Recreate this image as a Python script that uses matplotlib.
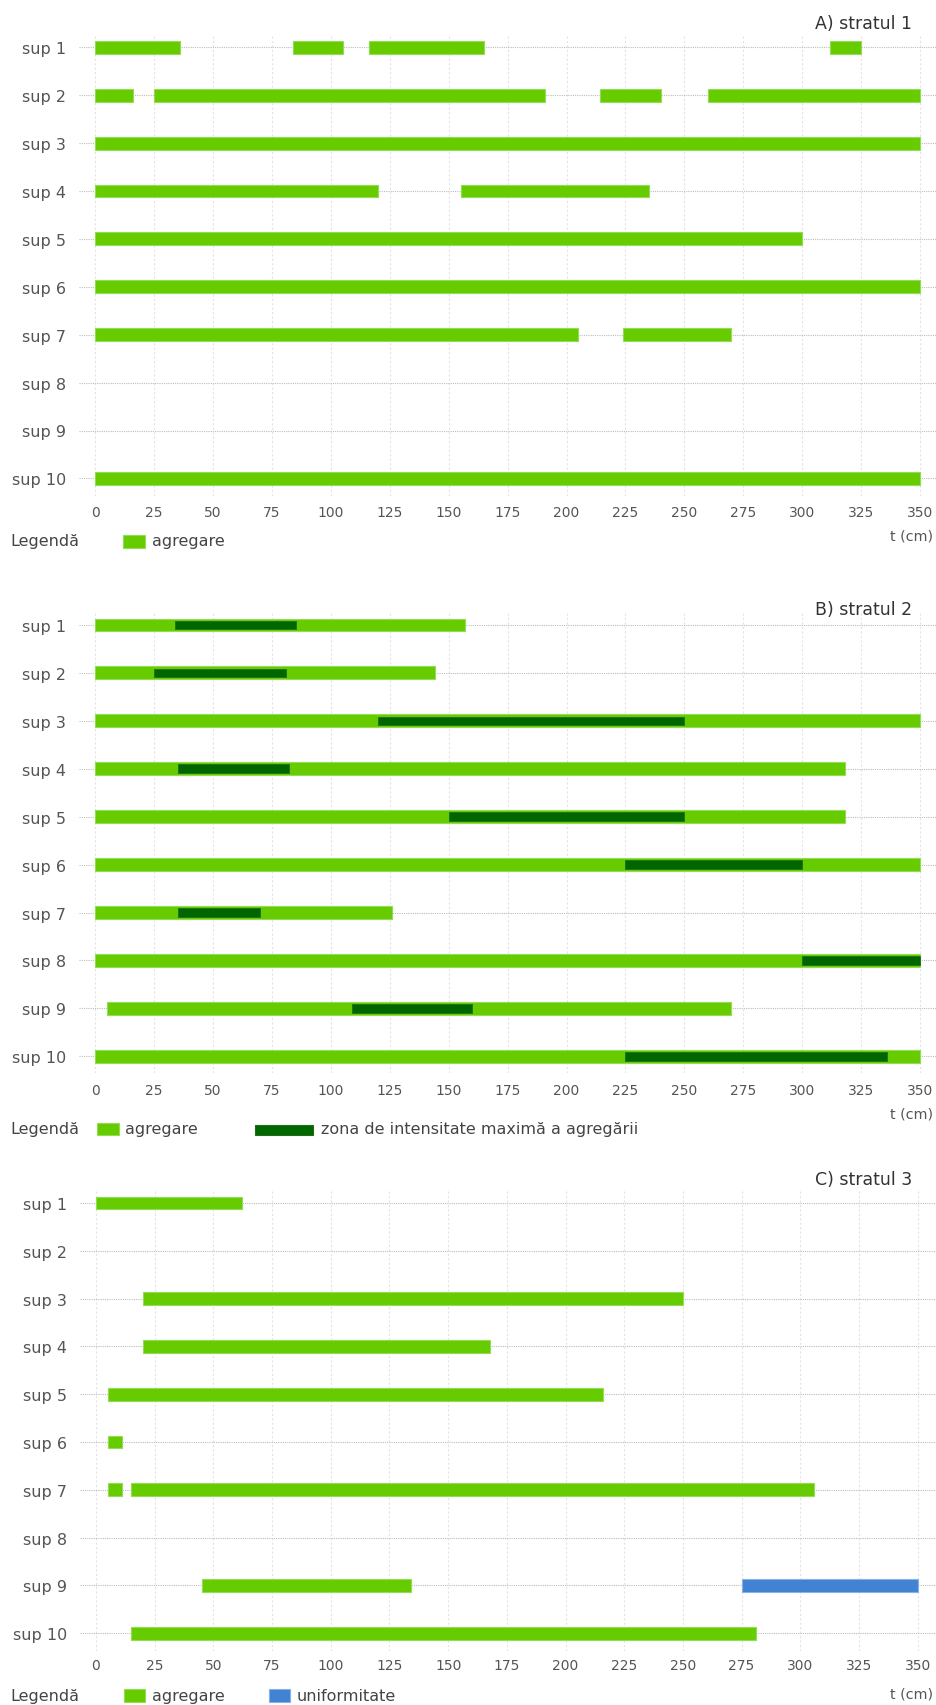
import matplotlib.pyplot as plt
from matplotlib.patches import Rectangle

plt.rcParams['font.family'] = ['DejaVu Sans']

W, H = 936, 1706

rows = ['sup 1', 'sup 2', 'sup 3', 'sup 4', 'sup 5',
        'sup 6', 'sup 7', 'sup 8', 'sup 9', 'sup 10']
xticks = [0, 25, 50, 75, 100, 125, 150, 175, 200, 225, 250, 275, 300, 325, 350]

# stratul 1 - agregare intervals (cm) per suprafata
a_agregare = [
    [(0, 36), (84, 105), (116, 165), (312, 325)],
    [(0, 16), (25, 191), (214, 240), (260, 350)],
    [(0, 350)],
    [(0, 120), (155, 235)],
    [(0, 300)],
    [(0, 350)],
    [(0, 205), (224, 270)],
    [],
    [],
    [(0, 350)],
]

# stratul 2 - agregare + zona de intensitate maxima
b_agregare = [
    [(0, 157)], [(0, 144)], [(0, 350)], [(0, 318)], [(0, 318)],
    [(0, 350)], [(0, 126)], [(0, 350)], [(5, 270)], [(0, 350)],
]
b_maxim = [
    [(34, 85)], [(25, 81)], [(120, 250)], [(35, 82)], [(150, 250)],
    [(225, 300)], [(35, 70)], [(300, 350)], [(109, 160)], [(225, 336)],
]

# stratul 3 - agregare + uniformitate
c_agregare = [
    [(0, 62)], [], [(20, 250)], [(20, 168)], [(5, 216)],
    [(5, 11)], [(5, 11), (15, 306)], [], [(45, 134)], [(15, 281)],
]
c_uniform = [[], [], [], [], [], [], [], [], [(275, 350)], []]

GREEN = '#66cc00'
GREEN_EDGE = '#93dd55'
DARK = '#006600'
BLUE = '#4282d2'
BLUE_EDGE = '#86b2e6'

fig = plt.figure(figsize=(W / 100, H / 100), dpi=100)


def fx(x):
    return x / W


def fy(y):
    return 1 - y / H


def box(x0, x1, y0, y1, color, edge):
    fig.add_artist(Rectangle((fx(x0), fy(y1)), (x1 - x0) / W, (y1 - y0) / H,
                             transform=fig.transFigure, facecolor=color,
                             edgecolor=edge, linewidth=0.8))


def draw_bars(ax, data, height, color, edge, lw=0.8):
    for i, segs in enumerate(data):
        if segs:
            ax.broken_barh([(s, e - s) for s, e in segs], (i - height / 2, height),
                           facecolors=color, edgecolors=edge, linewidths=lw, zorder=3)


def panel(x0, x350, row0, step, top, bottom, left=79, right=936):
    ax = fig.add_axes([fx(left), fy(bottom), (right - left) / W, (bottom - top) / H])
    scale = (x350 - x0) / 350
    ax.set_xlim((left - x0) / scale, 350 + (right - x350) / scale)
    ax.set_ylim((bottom - row0) / step, (top - row0) / step)
    ax.set_xticks(xticks)
    ax.set_yticks(range(len(rows)))
    ax.set_yticklabels(rows)
    for s in ax.spines.values():
        s.set_visible(False)
    ax.tick_params(length=0, colors='#555555')
    ax.tick_params(axis='y', labelsize=11.5, pad=9.5)
    ax.grid(axis='x', color='#e3e3e3', linestyle=(0, (2, 2)), linewidth=0.8)
    ax.grid(axis='y', color='#bdbdbd', linestyle=(0, (1, 1)), linewidth=0.8)
    ax.set_axisbelow(True)
    return ax


def decor(title, title_y, tcm_y):
    fig.text(fx(912), fy(title_y), title, ha='right', va='center',
             fontsize=12.5, color='#333333')
    fig.text(fx(933), fy(tcm_y), 't (cm)', ha='right', va='center',
             fontsize=10.3, color='#555555')


# A) stratul 1
axA = panel(95.3, 920, 48.3, 47.9, 36, 496.7)
axA.tick_params(axis='x', labelsize=10, pad=6.5)
draw_bars(axA, a_agregare, 0.27, GREEN, GREEN_EDGE)
decor('A) stratul 1', 24, 536.7)
fig.text(fx(10), fy(541.7), 'Legendă', ha='left', va='center', fontsize=11.5, color='#444444')
box(122.7, 145, 536, 548.5, GREEN, GREEN_EDGE)
fig.text(fx(152), fy(541.7), 'agregare', ha='left', va='center', fontsize=11.5, color='#444444')

# B) stratul 2
axB = panel(95.3, 920, 626, 47.92, 614, 1073.5)
axB.tick_params(axis='x', labelsize=10, pad=7.5)
draw_bars(axB, b_agregare, 0.27, GREEN, GREEN_EDGE)
draw_bars(axB, b_maxim, 0.18, DARK, '#1f6f12', lw=0.6)
decor('B) stratul 2', 610, 1115)
fig.text(fx(10), fy(1130), 'Legendă', ha='left', va='center', fontsize=11.5, color='#444444')
box(97, 119, 1124, 1136, GREEN, GREEN_EDGE)
fig.text(fx(125), fy(1130), 'agregare', ha='left', va='center', fontsize=11.5, color='#444444')
box(255, 313, 1126, 1136, DARK, '#1f6f12')
fig.text(fx(321), fy(1130), 'zona de intensitate maximă a agregării', ha='left',
         va='center', fontsize=11.5, color='#444444')

# C) stratul 3
axC = panel(96, 917.7, 1204, 47.8, 1191.7, 1651.7, left=80)
axC.tick_params(axis='x', labelsize=10, pad=5)
draw_bars(axC, c_agregare, 0.27, GREEN, GREEN_EDGE)
draw_bars(axC, c_uniform, 0.27, BLUE, BLUE_EDGE)
decor('C) stratul 3', 1180, 1695)
fig.text(fx(10), fy(1697), 'Legendă', ha='left', va='center', fontsize=11.5, color='#444444')
box(123.6, 145, 1690, 1703, GREEN, GREEN_EDGE)
fig.text(fx(152), fy(1697), 'agregare', ha='left', va='center', fontsize=11.5, color='#444444')
box(268.7, 289.6, 1690, 1703, BLUE, BLUE_EDGE)
fig.text(fx(297), fy(1697), 'uniformitate', ha='left', va='center', fontsize=11.5, color='#444444')

fig.savefig('out.png', dpi=100)
